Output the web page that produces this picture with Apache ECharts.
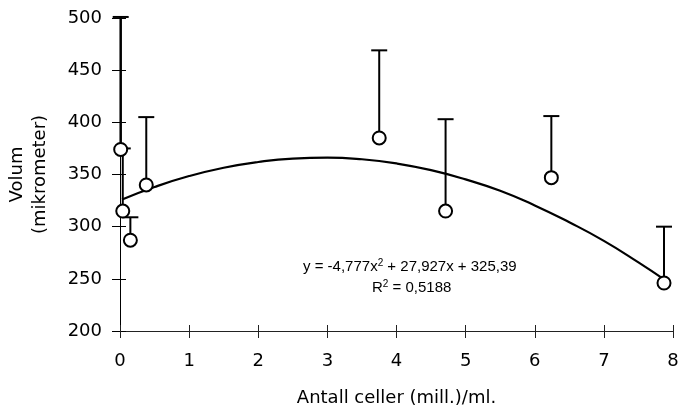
<!DOCTYPE html>
<html>
<head>
<meta charset="utf-8">
<script src="https://cdn.jsdelivr.net/npm/echarts@6/dist/echarts.min.js"></script>
<style>html,body{margin:0;padding:0;background:#fff;}#c{width:680px;height:406px;}</style>
</head>
<body>
<div id="c"></div>
<script>
// Data
const pointX = [0.01, 0.04, 0.15, 0.38, 3.75, 4.71, 6.24, 7.87];
const pointY = [374, 315, 287, 340, 385, 315, 347, 246];
const errTop = [501, 375, 309, 405, 469, 403, 406, 300];
// Trend curve as drawn in the picture (polynomial fit, order 2)
const curveX = [0.03, 0.5, 1, 1.5, 2, 2.5, 3, 3.5, 4, 4.5, 5, 5.5, 6, 6.5, 7, 7.5, 7.87];
const curveY = [326, 338, 348.5, 356.5, 362, 365.3, 366.2, 364.6, 360.6, 354.2, 345.3, 334.4, 320.4, 304.2, 286.4, 265.8, 249.5];
const xTicks = [0, 1, 2, 3, 4, 5, 6, 7, 8];
const yTicks = [200, 250, 300, 350, 400, 450, 500];
const eqLine1 = 'y = -4,777x{sup|2} + 27,927x + 325,39';
const eqLine2 = 'R{sup|2} = 0,5188';

const FONT = '"DejaVu Sans", Arial, sans-serif';
const EQFONT = '"Liberation Sans", Arial, sans-serif';
const chart = echarts.init(document.getElementById('c'), null, {renderer: 'canvas'});

const pts = pointX.map((x, i) => [x, pointY[i]]);
const errs = pointX.map((x, i) => [x, pointY[i], errTop[i]]);
const curve = curveX.map((x, i) => [x, curveY[i]]);

const baseX = {
  type: 'value', min: xTicks[0], max: xTicks[xTicks.length - 1], interval: 1,
  splitLine: {show: false}
};
const baseY = {
  type: 'value', min: yTicks[0], max: yTicks[yTicks.length - 1], interval: 50,
  splitLine: {show: false}
};

chart.setOption({
  animation: false,
  backgroundColor: '#fff',
  grid: {left: 120, right: 7, top: 18, bottom: 75, containLabel: false, outerBoundsMode: 'none'},
  xAxis: [
    Object.assign({}, baseX, {
      position: 'bottom',
      axisLine: {show: true, onZero: false, lineStyle: {color: '#222', width: 1}},
      axisTick: {show: true, inside: false, length: 7, lineStyle: {color: '#222'}},
      axisLabel: {color: '#000', fontSize: 18, fontFamily: FONT, margin: 21},
      name: 'Antall celler (mill.)/ml.',
      nameLocation: 'middle', nameGap: 58,
      nameTextStyle: {color: '#000', fontSize: 18, fontFamily: FONT}
    }),
    Object.assign({}, baseX, {
      position: 'bottom',
      axisLine: {show: false, onZero: false},
      axisTick: {show: true, inside: true, length: 6, lineStyle: {color: '#222'}},
      axisLabel: {show: false}
    })
  ],
  yAxis: [
    Object.assign({}, baseY, {
      position: 'left',
      axisLine: {show: true, onZero: false, lineStyle: {color: '#000', width: 1}},
      axisTick: {show: true, inside: false, length: 8, lineStyle: {color: '#000'}},
      axisLabel: {color: '#000', fontSize: 18, fontFamily: FONT, margin: 18, padding: [4, 0, 0, 0]},
      name: 'Volum\n(mikrometer)',
      nameLocation: 'middle', nameGap: 68, nameRotate: 90,
      nameTextStyle: {color: '#000', fontSize: 18, fontFamily: FONT, lineHeight: 23, align: 'center'}
    }),
    Object.assign({}, baseY, {
      position: 'left',
      axisLine: {show: false, onZero: false},
      axisTick: {show: true, inside: true, length: 6, lineStyle: {color: '#000'}},
      axisLabel: {show: false}
    })
  ],
  series: [
    {
      type: 'custom',
      xAxisIndex: 0, yAxisIndex: 0,
      clip: false,
      z: 1,
      data: errs,
      renderItem: function (params, api) {
        const x = api.value(0), y = api.value(1), t = api.value(2);
        const p0 = api.coord([x, y]);
        const p1 = api.coord([x, t]);
        const w = params.dataIndex === 0 ? 2.5 : 2;
        return {
          type: 'group',
          children: [
            {type: 'line', shape: {x1: p0[0], y1: p0[1], x2: p1[0], y2: p1[1]}, style: {stroke: '#000', lineWidth: w}},
            {type: 'line', shape: {x1: p1[0] - 8, y1: p1[1], x2: p1[0] + 8, y2: p1[1]}, style: {stroke: '#000', lineWidth: 2}}
          ]
        };
      }
    },
    {
      type: 'line',
      xAxisIndex: 0, yAxisIndex: 0,
      data: curve,
      smooth: true,
      showSymbol: false,
      symbol: 'none',
      lineStyle: {color: '#000', width: 2.2},
      z: 2
    },
    {
      type: 'scatter',
      xAxisIndex: 0, yAxisIndex: 0,
      data: pts,
      symbol: 'circle',
      symbolSize: 13,
      itemStyle: {color: '#fff', borderColor: '#000', borderWidth: 2, opacity: 1},
      z: 3
    }
  ],
  graphic: [
    {
      type: 'text', left: 303, top: 258,
      style: {
        text: eqLine1, fill: '#000', font: '15px ' + EQFONT,
        rich: {sup: {fontSize: 10, verticalAlign: 'top', padding: [0, 0, 7, 0], fontFamily: EQFONT, fill: '#000'}}
      }
    },
    {
      type: 'text', left: 372, top: 279,
      style: {
        text: eqLine2, fill: '#000', font: '15px ' + EQFONT,
        rich: {sup: {fontSize: 10, verticalAlign: 'top', padding: [0, 0, 7, 0], fontFamily: EQFONT, fill: '#000'}}
      }
    }
  ]
});
</script>
</body>
</html>
